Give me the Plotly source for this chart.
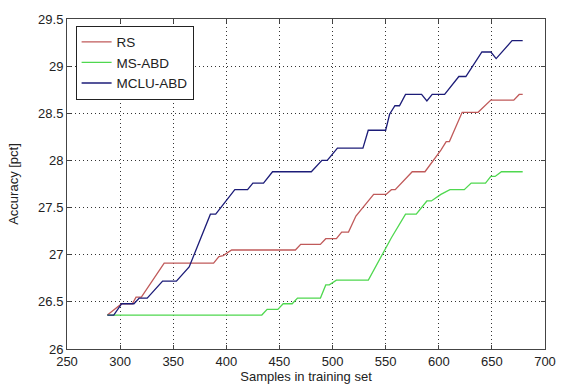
import plotly.graph_objects as go

# RS
rs_x = [288, 301.5, 311.5, 315, 320, 341.5, 388, 393, 397, 405, 465, 470, 488.5, 493.6, 503.6, 508.6,
        515, 522, 538.7, 550.4, 555.4, 559, 575, 587, 602, 607, 610, 622, 637, 649, 670.6, 675.7, 679]
rs_y = [26.36, 26.48, 26.48, 26.55, 26.55, 26.91, 26.91, 26.98, 26.99, 27.05, 27.05, 27.11, 27.11, 27.17, 27.17, 27.24,
        27.24, 27.41, 27.64, 27.64, 27.69, 27.69, 27.88, 27.88, 28.11, 28.2, 28.2, 28.51, 28.51, 28.64, 28.64, 28.70, 28.70]

# MS-ABD
ms_x = [288, 433.4, 438.4, 448.5, 453.5, 462, 467, 488.6, 493.6, 497, 503.6, 533.7, 555.4, 568.7, 578.8, 588.8,
        593, 602, 610.5, 624, 630.5, 644, 649, 653, 659, 679]
ms_y = [26.36, 26.36, 26.42, 26.42, 26.48, 26.48, 26.54, 26.54, 26.68, 26.68, 26.73, 26.73, 27.18, 27.43, 27.43, 27.57,
        27.57, 27.64, 27.69, 27.69, 27.76, 27.76, 27.83, 27.83, 27.88, 27.88]

# MCLU-ABD
mc_x = [288, 294, 301.5, 313, 318, 325.5, 340, 353, 365, 385, 390, 408, 420, 425, 435, 443.5, 480, 490, 495,
        504.6, 528.6, 533.6, 550, 553.7, 558.7, 563, 568.7, 583.8, 588.8, 593.8, 605.5, 618.9, 625.5, 640.6,
        649, 654, 669, 679]
mc_y = [26.36, 26.36, 26.48, 26.48, 26.54, 26.54, 26.72, 26.72, 26.87, 27.43, 27.43, 27.69, 27.69, 27.76, 27.76, 27.88,
        27.88, 28.0, 28.0, 28.13, 28.13, 28.32, 28.32, 28.49, 28.58, 28.58, 28.70, 28.70, 28.63, 28.70, 28.70, 28.89,
        28.89, 29.15, 29.15, 29.08, 29.27, 29.27]

series = [("RS", rs_x, rs_y, "#c05a5a"),
          ("MS-ABD", ms_x, ms_y, "#4fd84f"),
          ("MCLU-ABD", mc_x, mc_y, "#1c1c78")]

fig = go.Figure()
for name, xs, ys, col in series:
    fig.add_trace(go.Scatter(x=xs, y=ys, mode="lines", name=name,
                             line=dict(color=col, width=1.3)))

axis_common = dict(showline=True, linecolor="#444", linewidth=1, mirror="ticks",
                   ticks="inside", ticklen=4, tickcolor="#444",
                   showgrid=True, gridcolor="#333", griddash="1px,3px", gridwidth=1,
                   zeroline=False, tickfont=dict(family="Liberation Sans, Arial", size=13, color="#222"))

fig.update_layout(
    width=568, height=390,
    margin=dict(l=67, r=12, t=15, b=41),
    paper_bgcolor="white", plot_bgcolor="white",
    font=dict(family="Liberation Sans, Arial", size=13, color="#222"),
    xaxis=dict(range=[250, 700], tickvals=[250, 300, 350, 400, 450, 500, 550, 600, 650, 700],
               title=dict(text="Samples in training set", standoff=0, font=dict(size=13)),
               **axis_common),
    yaxis=dict(range=[26, 29.5], tickvals=[26, 26.5, 27, 27.5, 28, 28.5, 29, 29.5],
               ticktext=["26", "26.5", "27", "27.5", "28", "28.5", "29", "29.5"],
               title=dict(text="Accuracy [pct]", standoff=16, font=dict(size=13)),
               **axis_common),
    legend=dict(x=0.018, y=0.98, xanchor="left", yanchor="top",
                bgcolor="white", bordercolor="#222", borderwidth=1,
                font=dict(size=13.5), tracegroupgap=0, itemwidth=30,
                entrywidth=140, entrywidthmode="pixels"),
    showlegend=True,
)

fig.write_html("out.html", config={"displayModeBar": False},
               post_script="document.body.style.margin='0';")
